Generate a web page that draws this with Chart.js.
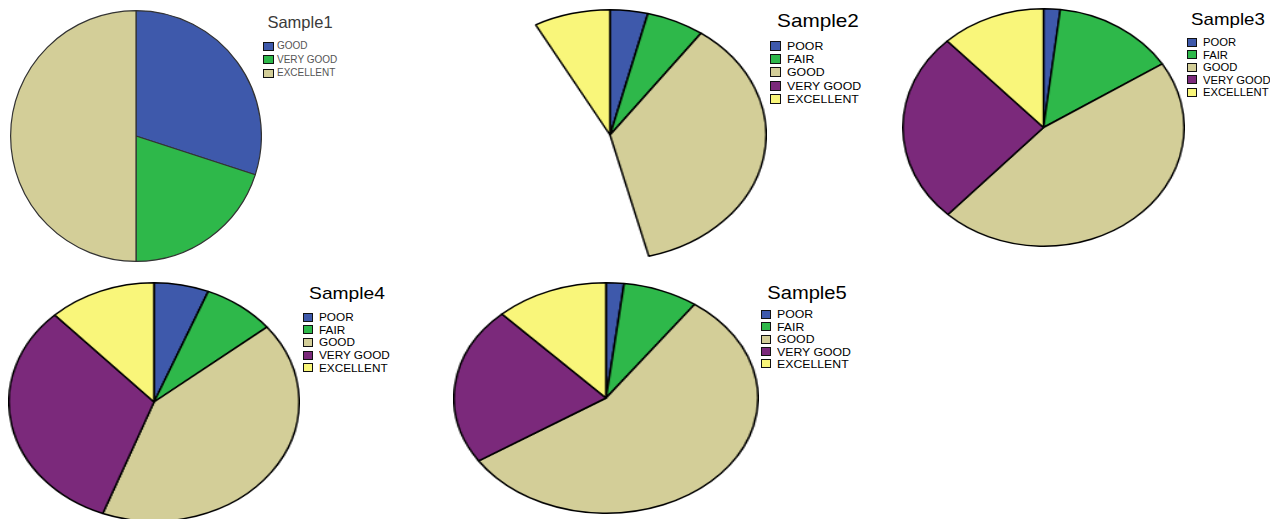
<!DOCTYPE html>
<html>
<head>
<meta charset="utf-8">
<script src="https://cdn.jsdelivr.net/npm/chart.js@4.4.1/dist/chart.umd.min.js"></script>
<style>
  body { margin: 0; background: #fff; overflow: hidden; font-family: "Liberation Sans", Arial, sans-serif; }
  #page { position: relative; width: 1270px; height: 519px; overflow: hidden; }
  #page canvas { position: absolute; }
  .title { position: absolute; white-space: nowrap; transform: translate(-50%, -50%); }
  .title span { display: inline-block; }
  .row { position: absolute; white-space: nowrap; transform-origin: left center; }
  .box { position: absolute; box-sizing: border-box; border: 1px solid #111; }
</style>
</head>
<body>
<div id="page"></div>
<script>
// categories
const ratingLabels = ['POOR', 'FAIR', 'GOOD', 'VERY GOOD', 'EXCELLENT'];
const sample1Labels = ['GOOD', 'VERY GOOD', 'EXCELLENT'];

// percentages
const sample1Values = [30, 20, 50];
const sample2Values = [3.9, 6.0, 36.1, 46.1, 7.9];
const sample3Values = [1.9, 14.1, 45.9, 26.1, 12.0];
const sample4Values = [6.1, 8.1, 41.6, 32.3, 12.0];
const sample5Values = [1.9, 8.0, 55.9, 22.2, 12.0];

// sample2 shows no fill for this category
const sample2Hidden = ['VERY GOOD'];

// colours go by position in the category list, not by name
const palette = ['#3e59ab', '#2eb84a', '#d3ce98', '#7b297b', '#f9f67a'];

const panels = [
    { title: 'Sample1', labels: sample1Labels, values: sample1Values, hidden: [],
      cx: 136, cy: 136, rx: 125, ry: 125, edge: '#333', edgeW: 1.2,
      tx: 300, ty: 22, tSize: 16.5, tScale: 1.0, tColor: '#3a3a3a',
      lx: 263, ly: 46, rowH: 13.5, lSize: 10, lScale: 1.0, lColor: '#555', boxW: 11, boxH: 9, gap: 3 },
    { title: 'Sample2', labels: ratingLabels, values: sample2Values, hidden: sample2Hidden,
      cx: 610, cy: 135, rx: 156, ry: 125, edge: '#000', edgeW: 1.5,
      tx: 818, ty: 21, tSize: 18.5, tScale: 1.12, tColor: '#000',
      lx: 770, ly: 45.5, rowH: 13.4, lSize: 11, lScale: 1.12, lColor: '#000', boxW: 11, boxH: 10, gap: 6 },
    { title: 'Sample3', labels: ratingLabels, values: sample3Values, hidden: [],
      cx: 1043.5, cy: 127.5, rx: 140.5, ry: 118.5, edge: '#000', edgeW: 1.5,
      tx: 1228, ty: 20, tSize: 17, tScale: 1.1, tColor: '#000',
      lx: 1187, ly: 42, rowH: 12.5, lSize: 10.5, lScale: 1.07, lColor: '#000', boxW: 10, boxH: 9, gap: 6 },
    { title: 'Sample4', labels: ratingLabels, values: sample4Values, hidden: [],
      cx: 154, cy: 402, rx: 145, ry: 119, edge: '#000', edgeW: 1.5,
      tx: 347, ty: 294, tSize: 17, tScale: 1.13, tColor: '#000',
      lx: 303, ly: 317, rowH: 12.7, lSize: 10.5, lScale: 1.12, lColor: '#000', boxW: 10, boxH: 9, gap: 6 },
    { title: 'Sample5', labels: ratingLabels, values: sample5Values, hidden: [],
      cx: 605.7, cy: 397.7, rx: 151.7, ry: 115, edge: '#000', edgeW: 1.5,
      tx: 807, ty: 293, tSize: 17.5, tScale: 1.15, tColor: '#000',
      lx: 761, ly: 314.3, rowH: 12.4, lSize: 10.5, lScale: 1.17, lColor: '#000', boxW: 10, boxH: 9, gap: 6 }
];

const page = document.getElementById('page');

panels.forEach(function(p) {
    const fill = p.labels.map((l, i) => palette[i]);

    // pie drawn as a circle, then stretched into the ellipse
    const size = Math.round(2 * p.ry + 2);
    const canvas = document.createElement('canvas');
    canvas.width = size;
    canvas.height = size;
    const w = size * p.rx / p.ry;
    canvas.style.width = w + 'px';
    canvas.style.height = size + 'px';
    canvas.style.left = (p.cx - w / 2) + 'px';
    canvas.style.top = (p.cy - size / 2) + 'px';
    page.appendChild(canvas);

    new Chart(canvas, {
        type: 'pie',
        data: {
            labels: p.labels,
            datasets: [{
                data: p.values,
                backgroundColor: p.labels.map((l, i) => p.hidden.includes(l) ? 'rgba(0,0,0,0)' : fill[i]),
                borderColor: p.edge,
                borderWidth: p.labels.map(l => p.hidden.includes(l) ? 0 : p.edgeW)
            }]
        },
        options: {
            responsive: false,
            animation: false,
            events: [],
            layout: { padding: 0 },
            plugins: { legend: { display: false }, title: { display: false }, tooltip: { enabled: false } }
        }
    });

    // title
    const t = document.createElement('div');
    t.className = 'title';
    t.style.left = p.tx + 'px';
    t.style.top = p.ty + 'px';
    t.style.fontSize = p.tSize + 'px';
    t.style.color = p.tColor;
    const ts = document.createElement('span');
    ts.textContent = p.title;
    ts.style.transform = 'scaleX(' + p.tScale + ')';
    t.appendChild(ts);
    page.appendChild(t);

    // legend
    p.labels.forEach(function(label, i) {
        const yc = p.ly + i * p.rowH;
        const b = document.createElement('div');
        b.className = 'box';
        b.style.left = p.lx + 'px';
        b.style.top = (yc - p.boxH / 2) + 'px';
        b.style.width = p.boxW + 'px';
        b.style.height = p.boxH + 'px';
        b.style.background = fill[i];
        page.appendChild(b);

        const r = document.createElement('div');
        r.className = 'row';
        r.textContent = label;
        r.style.left = (p.lx + p.boxW + p.gap) + 'px';
        r.style.top = (yc - 7) + 'px';
        r.style.height = '14px';
        r.style.lineHeight = '14px';
        r.style.fontSize = p.lSize + 'px';
        r.style.color = p.lColor;
        r.style.transform = 'scaleX(' + p.lScale + ')';
        page.appendChild(r);
    });
});
</script>
</body>
</html>
